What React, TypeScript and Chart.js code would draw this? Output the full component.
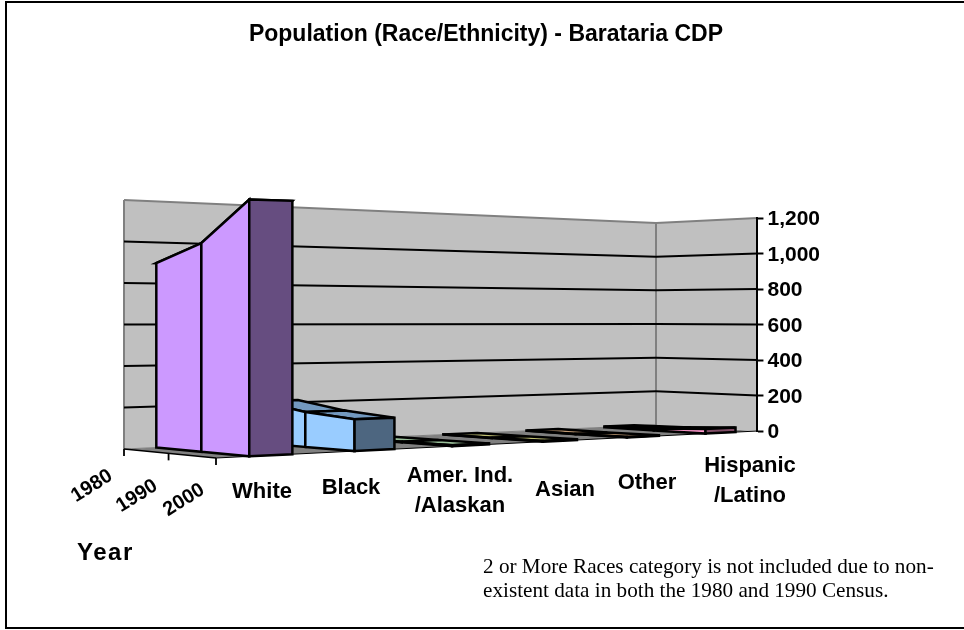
import React, { useEffect, useRef } from "react";
import { Chart, registerables } from "chart.js";

Chart.register(...registerables);

const categories = ["White", "Black", "Amer. Ind./Alaskan", "Asian", "Other", "Hispanic/Latino"];
const years = ["1980", "1990", "2000"];
const values1980 = [897, 210, 2, 1, 2, 5];
const values1990 = [982, 170, 3, 1, 1, 10];
const values2000 = [1170, 150, 5, 4, 3, 25];
const yTicksMax = 1200;
const faceColours = ["#CC99FF", "#99CCFF", "#CCFFCC", "#FFFF99", "#FFCC99", "#FF99CC"];
const categoryLabelLines = [["White"], ["Black"], ["Amer. Ind.", "/Alaskan"], ["Asian"], ["Other"], ["Hispanic", "/Latino"]];
const titleText = "Population (Race/Ethnicity) - Barataria CDP";
const noteLines = ["2 or More Races category is not included due to non-", "existent data in both the 1980 and 1990 Census."];

// Layout of the 3-D box on the page (back-left, back-right, front-right, front-left of the floor)
const FLOOR = [[124, 449], [656, 425], [757.5, 431], [216, 458]];
// Pixel height of the full value axis at those four corners
const WALL_H = [249, 202, 213, 266];
const CAT_LABEL_POS = [[262, 492], [351, 488], [460, 491], [565, 490], [647, 483], [750, 481]];
const YEAR_LABEL_POS = [[92, 486], [137, 496], [184, 500]];
const BAR_FRACTION = 0.4;
const SANS = '"Liberation Sans", Arial, sans-serif';
const SERIF = '"Liberation Serif", "Times New Roman", serif';

function makeProjector() {
  const [[x0, y0], [x1, y1], [x2, y2], [x3, y3]] = FLOOR;
  const dx1 = x1 - x2, dx2 = x3 - x2, sx = x0 - x1 + x2 - x3;
  const dy1 = y1 - y2, dy2 = y3 - y2, sy = y0 - y1 + y2 - y3;
  const den = dx1 * dy2 - dx2 * dy1;
  const g = (sx * dy2 - dx2 * sy) / den;
  const h = (dx1 * sy - sx * dy1) / den;
  const a = x1 - x0 + g * x1, b = x3 - x0 + h * x3, c = x0;
  const d = y1 - y0 + g * y1, e = y3 - y0 + h * y3, f = y0;
  return (u: number, v: number, frac: number) => {
    const w = g * u + h * v + 1;
    const H = (1 - v) * ((1 - u) * WALL_H[0] + u * WALL_H[1]) + v * ((1 - u) * WALL_H[3] + u * WALL_H[2]);
    return [(a * u + b * v + c) / w, (d * u + e * v + f) / w - frac * H];
  };
}

function shade(hex: string, k: number) {
  const n = parseInt(hex.slice(1), 16);
  return `rgb(${((n >> 16) & 255) * k},${((n >> 8) & 255) * k},${(n & 255) * k})`;
}

function poly(ctx: CanvasRenderingContext2D, pts: number[][], fill: string | null, stroke: string | null, lw = 2.5) {
  ctx.beginPath();
  pts.forEach((p, i) => (i ? ctx.lineTo(p[0], p[1]) : ctx.moveTo(p[0], p[1])));
  ctx.closePath();
  if (fill) { ctx.fillStyle = fill; ctx.fill(); }
  if (stroke) { ctx.strokeStyle = stroke; ctx.lineWidth = lw; ctx.lineJoin = "miter"; ctx.stroke(); }
}

function line(ctx: CanvasRenderingContext2D, a: number[], b: number[], color: string, lw: number) {
  ctx.beginPath();
  ctx.moveTo(a[0], a[1]);
  ctx.lineTo(b[0], b[1]);
  ctx.strokeStyle = color;
  ctx.lineWidth = lw;
  ctx.stroke();
}

const box3d = {
  id: "box3d",
  beforeDraw(chart: any) {
    const t = chart.titleBlock;
    if (t) { t.left = 8; t.right = 964; }
    const ctx = chart.ctx as CanvasRenderingContext2D;
    const P = makeProjector();
    const y = chart.scales.y;
    const frac = (val: number) => (y.bottom - y.getPixelForValue(val)) / y.height;
    ctx.save();
    // page frame
    ctx.strokeStyle = "#000";
    ctx.lineWidth = 2;
    ctx.beginPath();
    ctx.moveTo(964, 2);
    ctx.lineTo(6, 2);
    ctx.lineTo(6, 628);
    ctx.lineTo(964, 628);
    ctx.stroke();
    // floor
    poly(ctx, [P(0, 0, 0), P(1, 0, 0), P(1, 1, 0), P(0, 1, 0)], "#808080", null);
    // walls
    poly(ctx, [P(0, 0, 0), P(1, 0, 0), P(1, 0, 1), P(0, 0, 1)], "#C0C0C0", null);
    poly(ctx, [P(1, 0, 0), P(1, 1, 0), P(1, 1, 1), P(1, 0, 1)], "#C0C0C0", null);
    line(ctx, P(0, 0, 0), P(0, 0, 1), "#808080", 2);
    line(ctx, P(0, 0, 1), P(1, 0, 1), "#808080", 2);
    line(ctx, P(1, 0, 1), P(1, 1, 1), "#808080", 2);
    line(ctx, P(1, 0, 0), P(1, 0, 1), "#808080", 2);
    line(ctx, P(0, 0, 0), P(1, 0, 0), "#808080", 1);
    y.ticks.forEach((tk: any) => {
      if (tk.value > 0 && tk.value < yTicksMax) {
        const f = frac(tk.value);
        line(ctx, P(0, 0, f), P(1, 0, f), "#000", 2);
        line(ctx, P(1, 0, f), P(1, 1, f), "#000", 2);
      }
    });
    // floor front edges
    line(ctx, P(0, 0, 0), P(0, 1, 0), "#000", 1.5);
    line(ctx, P(0, 1, 0), P(1, 1, 0), "#000", 1);
    ctx.restore();
  },
  afterDatasetsDraw(chart: any) {
    const ctx = chart.ctx as CanvasRenderingContext2D;
    const P = makeProjector();
    const { x, y, depth } = chart.scales;
    const frac = (val: number) => (y.bottom - y.getPixelForValue(val)) / y.height;
    const U = (px: number) => (px - x.left) / x.width;
    const V = (j: number) => (depth.getPixelForValue(j) - depth.left) / depth.width;
    const catBand = x.width / categories.length;
    ctx.save();
    // depth ticks
    years.forEach((_, j) => {
      const p = P(0, V(j), 0);
      line(ctx, p, [p[0], p[1] + 7], "#000", 1.8);
    });
    // painter's order: right to left, back to front; each category is a ribbon through the years
    const sets = chart.data.datasets;
    for (let i = categories.length - 1; i >= 0; i--) {
      const cx = x.getPixelForValue(i);
      const u0 = U(cx - (catBand * BAR_FRACTION) / 2);
      const u1 = U(cx + (catBand * BAR_FRACTION) / 2);
      const col = faceColours[i];
      for (let j = 0; j < sets.length - 1; j++) {
        const v0 = V(j), v1 = V(j + 1);
        const f0 = frac(sets[j].data[i]), f1 = frac(sets[j + 1].data[i]);
        poly(ctx, [P(u0, v0, f0), P(u1, v0, f0), P(u1, v1, f1), P(u0, v1, f1)], shade(col, 0.75), "#000");
        poly(ctx, [P(u0, v0, 0), P(u0, v1, 0), P(u0, v1, f1), P(u0, v0, f0)], col, "#000");
      }
      const vEnd = V(sets.length - 1);
      const fEnd = frac(sets[sets.length - 1].data[i]);
      poly(ctx, [P(u0, vEnd, 0), P(u1, vEnd, 0), P(u1, vEnd, fEnd), P(u0, vEnd, fEnd)], shade(col, 0.5), "#000");
    }
    // texts on the axes
    ctx.fillStyle = "#000";
    ctx.textAlign = "center";
    ctx.textBaseline = "middle";
    ctx.font = `bold 22px ${SANS}`;
    categoryLabelLines.forEach((lines, i) => {
      const [lx, ly] = CAT_LABEL_POS[i];
      lines.forEach((t, k) => ctx.fillText(t, lx, ly + (k - (lines.length - 1) / 2) * 30));
    });
    depth.getLabels().forEach((t: string, j: number) => {
      const [lx, ly] = YEAR_LABEL_POS[j];
      ctx.save();
      ctx.translate(lx, ly);
      ctx.rotate((-32 * Math.PI) / 180);
      ctx.font = `bold 20px ${SANS}`;
      ctx.fillText(t, 0, 0);
      ctx.restore();
    });
    ctx.textAlign = "left";
    ctx.font = `bold 24px ${SANS}`;
    (ctx as any).letterSpacing = "1.5px";
    ctx.fillText("Year", 77, 553);
    (ctx as any).letterSpacing = "0px";
    ctx.font = `21.2px ${SERIF}`;
    noteLines.forEach((t, k) => ctx.fillText(t, 483, 567 + k * 24));
    ctx.restore();
  },
};

export default function App() {
  const ref = useRef<HTMLCanvasElement>(null);
  useEffect(() => {
    const chart = new Chart(ref.current as HTMLCanvasElement, {
      type: "bar",
      data: {
        labels: categories,
        datasets: [values1980, values1990, values2000].map((data, j) => ({
          label: years[j],
          data,
          backgroundColor: "rgba(0,0,0,0)",
          borderWidth: 0,
        })),
      },
      plugins: [box3d],
      options: {
        responsive: false,
        animation: false,
        devicePixelRatio: 1,
        layout: { padding: { left: 124, right: 140, top: 0, bottom: 199 } },
        plugins: {
          legend: { display: false },
          tooltip: { enabled: false },
          title: {
            display: true,
            text: titleText,
            color: "#000",
            font: { family: SANS, size: 23, weight: "bold", lineHeight: 1.2 },
            padding: { top: 21, bottom: 169.4 },
          },
        },
        scales: {
          x: { type: "category", display: false, offset: true },
          depth: { type: "category", axis: "x", labels: years, display: false, offset: false, position: "bottom" },
          y: {
            type: "linear",
            position: "right",
            min: 0,
            max: yTicksMax,
            border: { color: "#000", width: 2 },
            grid: { drawOnChartArea: false, color: "#000", tickColor: "#000", tickLength: 6, tickWidth: 2 },
            ticks: {
              stepSize: 200,
              padding: 4,
              labelOffset: 1.5,
              color: "#000",
              font: { family: SANS, size: 21, weight: "bold" },
              callback: (v: any) => Number(v).toLocaleString("en-US"),
            },
          },
        },
      } as any,
    });
    return () => chart.destroy();
  }, []);
  return (
    <canvas
      ref={ref}
      width={964}
      height={630}
      style={{ position: "absolute", left: 0, top: 0, width: 964, height: 630 }}
    />
  );
}
